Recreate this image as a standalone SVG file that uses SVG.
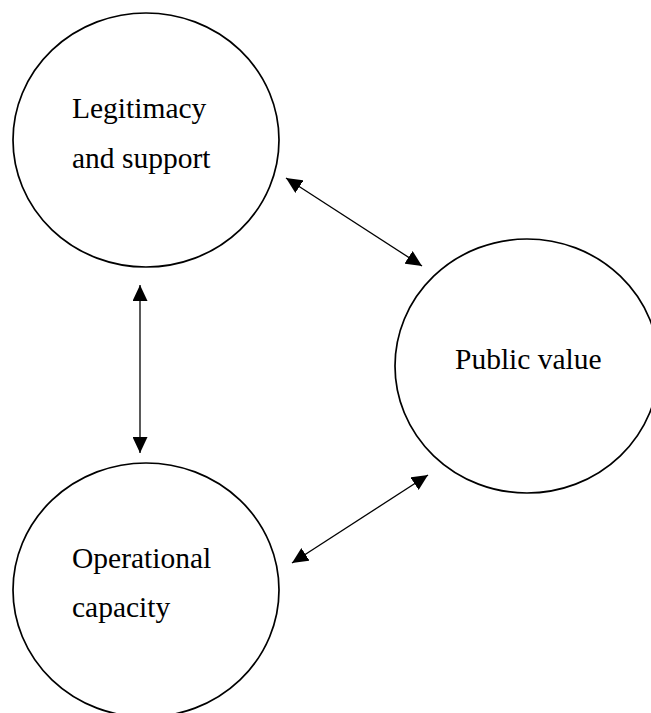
<svg xmlns="http://www.w3.org/2000/svg" width="651" height="713" viewBox="0 0 651 713">
<style>
.node ellipse{fill:none;stroke:#000;stroke-width:1.7}
.node text{font-family:"Liberation Serif","Times New Roman",serif;font-size:29.5px;fill:#000}
.conn line{stroke:#000;stroke-width:1.3}
</style>
<defs>
<marker id="ah" viewBox="0 0 16 15" markerWidth="16" markerHeight="15" refX="16" refY="7.5" markerUnits="userSpaceOnUse" orient="auto-start-reverse">
<path d="M0,0 L16,7.5 L0,15 z" fill="#000"/>
</marker>
</defs>
<rect width="651" height="713" fill="#fff"/>
<g id="legitimacy" class="node">
<ellipse cx="146" cy="140" rx="133" ry="127"/>
<text x="72" y="118">Legitimacy</text>
<text x="72" y="168">and support</text>
</g>
<g id="public-value" class="node">
<ellipse cx="527" cy="366" rx="132" ry="127"/>
<text x="455" y="369">Public value</text>
</g>
<g id="operational" class="node">
<ellipse cx="146" cy="590" rx="133" ry="127"/>
<text x="72" y="568">Operational</text>
<text x="72" y="617">capacity</text>
</g>
<g id="connectors" class="conn">
<line x1="140" y1="285" x2="140" y2="453" marker-start="url(#ah)" marker-end="url(#ah)"/>
<line x1="286" y1="178" x2="422" y2="266" marker-start="url(#ah)" marker-end="url(#ah)"/>
<line x1="292" y1="563" x2="428" y2="475" marker-start="url(#ah)" marker-end="url(#ah)"/>
</g>
</svg>
